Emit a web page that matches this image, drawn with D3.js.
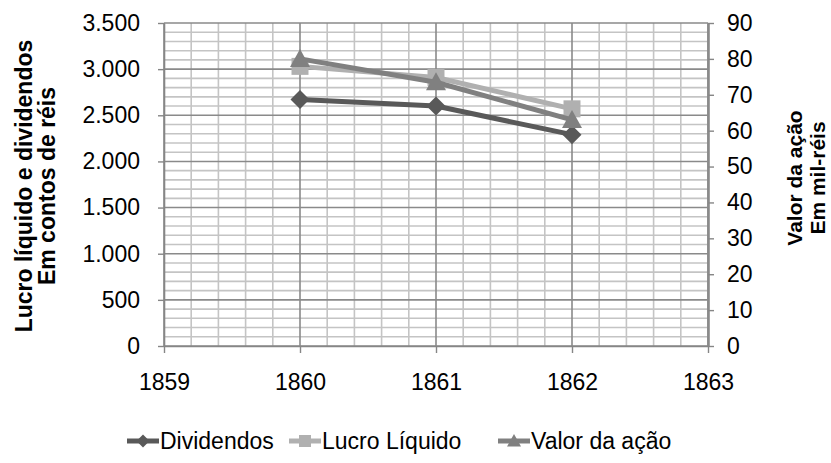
<!DOCTYPE html>
<html>
<head>
<meta charset="utf-8">
<script src="https://cdn.jsdelivr.net/npm/d3@7"></script>
<style>
  html, body { margin: 0; padding: 0; background: #fff; }
  svg text { font-family: "Liberation Sans", Arial, sans-serif; fill: #000; }
</style>
</head>
<body>
<svg id="chart" width="831" height="463"></svg>
<script>
// Years on the horizontal axis
const years = [1860, 1861, 1862];
const xTicks = [1859, 1860, 1861, 1862, 1863];

// Left axis series (contos de réis)
const dividendos = [2670, 2600, 2290];
const lucroLiquido = [3030, 2910, 2570];

// Right axis series (mil-réis)
const valorAcao = [80, 73.5, 63];

const leftTicks = [0, 500, 1000, 1500, 2000, 2500, 3000, 3500];
const rightTicks = [0, 10, 20, 30, 40, 50, 60, 70, 80, 90];

const seriesNames = ["Dividendos", "Lucro Líquido", "Valor da ação"];
const seriesColors = ["#595959", "#b0b0b0", "#808080"];

const svg = d3.select("#chart");
const L = 164, R = 708, T = 23, B = 346;
const FS = "23px";

const x = d3.scaleLinear().domain([1859, 1863]).range([L, R]);
const yL = d3.scaleLinear().domain([0, 3500]).range([B, T]);
const yR = d3.scaleLinear().domain([0, 90]).range([B, T]);

const fmt = d => d3.format(",")(d).replace(/,/g, ".");

// Marker shapes; "size" is the half-width in pixels
const diamond = { draw(c, s) { c.moveTo(0, -s); c.lineTo(s, 0); c.lineTo(0, s); c.lineTo(-s, 0); c.closePath(); } };
const square = { draw(c, s) { c.rect(-s, -s, 2 * s, 2 * s); } };
const triangle = { draw(c, s) { c.moveTo(0, -s); c.lineTo(s, s * 0.8); c.lineTo(-s, s * 0.8); c.closePath(); } };

// Grid: minor lines first, then major lines on top
const grid = svg.append("g");
const minorX = d3.range(0, 21).map(i => 1859 + i * 0.2).filter((v, i) => i % 5 !== 0);
const minorY = d3.range(0, 36).map(i => i * 100).filter(v => v % 500 !== 0);

grid.selectAll(".mx").data(minorX).enter().append("line")
  .attr("x1", d => x(d)).attr("x2", d => x(d)).attr("y1", T).attr("y2", B)
  .attr("stroke", "#c4c4c4").attr("stroke-width", 1.6);
grid.selectAll(".my").data(minorY).enter().append("line")
  .attr("x1", L).attr("x2", R).attr("y1", d => yL(d)).attr("y2", d => yL(d))
  .attr("stroke", "#c4c4c4").attr("stroke-width", 1.6);
grid.selectAll(".Mx").data(xTicks).enter().append("line")
  .attr("x1", d => x(d)).attr("x2", d => x(d)).attr("y1", T).attr("y2", B)
  .attr("stroke", "#8a8a8a").attr("stroke-width", 1.6);
grid.selectAll(".My").data(leftTicks).enter().append("line")
  .attr("x1", L).attr("x2", R).attr("y1", d => yL(d)).attr("y2", d => yL(d))
  .attr("stroke", "#8a8a8a").attr("stroke-width", 1.6);

// Axes
const axisStyle = g => {
  g.select(".domain").attr("stroke", "#868686").attr("stroke-width", 1.6);
  g.selectAll(".tick line").attr("stroke", "#868686").attr("stroke-width", 1.4);
  g.selectAll(".tick text").attr("font-size", FS)
    .attr("font-family", "Liberation Sans, Arial, sans-serif").attr("fill", "#000");
};

svg.append("g").attr("transform", `translate(${L},0)`)
  .call(d3.axisLeft(yL).tickValues(leftTicks).tickFormat(fmt).tickSizeInner(6).tickSizeOuter(0).tickPadding(18))
  .call(axisStyle);

svg.append("g").attr("transform", `translate(${R},0)`)
  .call(d3.axisRight(yR).tickValues(rightTicks).tickSizeInner(6).tickSizeOuter(0).tickPadding(13))
  .call(axisStyle)
  .call(g => g.select(".domain").attr("stroke", "#8a8a8a").attr("stroke-width", 2.6));

svg.append("g").attr("transform", `translate(0,${B})`)
  .call(d3.axisBottom(x).tickValues(xTicks).tickFormat(d3.format("d")).tickSizeInner(7).tickSizeOuter(0).tickPadding(21))
  .call(axisStyle);

// Axis titles
const leftTitle = svg.append("text")
  .attr("transform", "translate(0,186) rotate(-90)")
  .attr("text-anchor", "middle").attr("font-size", FS).attr("font-weight", "bold");
leftTitle.append("tspan").attr("x", 0).attr("y", 32).text("Lucro líquido e dividendos");
leftTitle.append("tspan").attr("x", 0).attr("y", 55).text("Em contos de réis");

const rightTitle = svg.append("text")
  .attr("transform", "translate(0,178) rotate(-90)")
  .attr("text-anchor", "middle").attr("font-size", "21px").attr("font-weight", "bold");
rightTitle.append("tspan").attr("x", 0).attr("y", 802).text("Valor da ação");
rightTitle.append("tspan").attr("x", 0).attr("y", 825).text("Em mil-réis");

// Series
const line = d3.line();
const series = [
  { values: dividendos, y: yL, sym: diamond, size: 9.5 },
  { values: lucroLiquido, y: yL, sym: square, size: 8.5 },
  { values: valorAcao, y: yR, sym: triangle, size: 10 }
];

series.forEach((s, i) => {
  const pts = years.map((yr, j) => [x(yr), s.y(s.values[j])]);
  svg.append("path").attr("d", line(pts)).attr("fill", "none")
    .attr("stroke", seriesColors[i]).attr("stroke-width", 5).attr("stroke-linejoin", "round");
  svg.selectAll(null).data(pts).enter().append("path")
    .attr("transform", d => `translate(${d[0]},${d[1]})`)
    .attr("d", d3.symbol().type(s.sym).size(s.size)())
    .attr("fill", seriesColors[i]);
});

// Legend
const legendItems = [
  { x: 127, sym: diamond, size: 6.5 },
  { x: 289, sym: square, size: 6 },
  { x: 498, sym: triangle, size: 7 }
];
const ly = 441;
legendItems.forEach((it, i) => {
  const g = svg.append("g");
  g.append("line").attr("x1", it.x).attr("x2", it.x + 32).attr("y1", ly).attr("y2", ly)
    .attr("stroke", seriesColors[i]).attr("stroke-width", 5);
  g.append("path").attr("transform", `translate(${it.x + 16},${ly})`)
    .attr("d", d3.symbol().type(it.sym).size(it.size)()).attr("fill", seriesColors[i]);
  g.append("text").attr("x", it.x + 33).attr("y", ly + 8).attr("font-size", FS)
    .text(seriesNames[i]);
});
</script>
</body>
</html>
